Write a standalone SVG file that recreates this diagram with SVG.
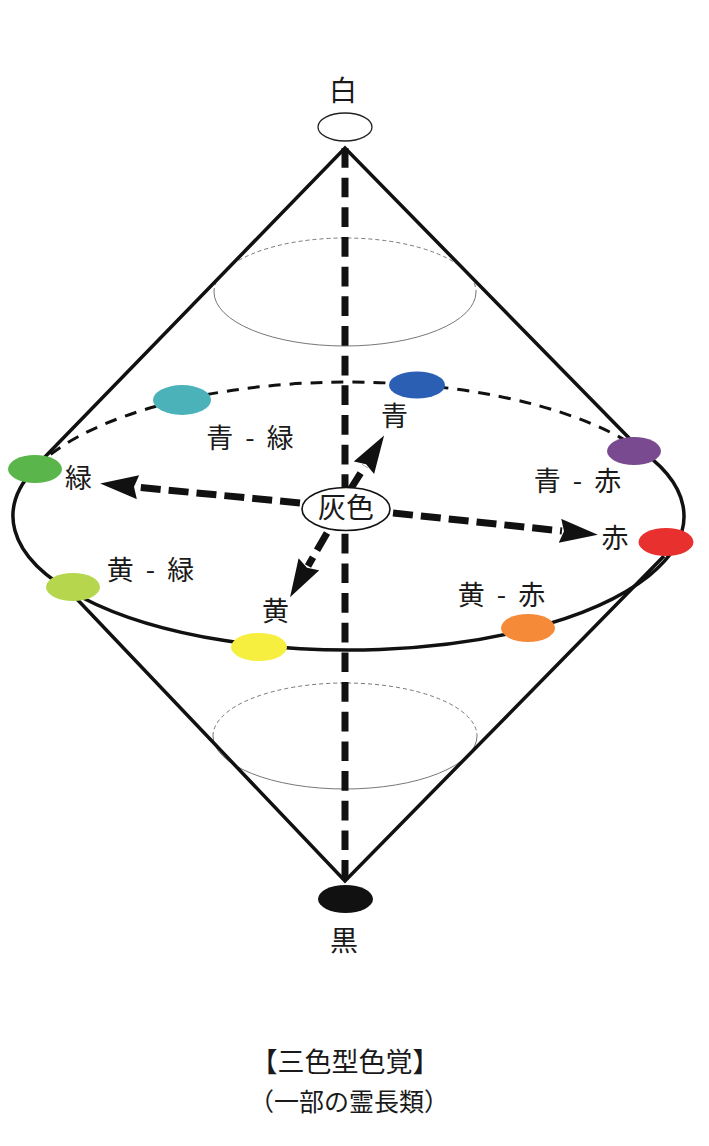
<svg xmlns="http://www.w3.org/2000/svg" width="709" height="1146" viewBox="0 0 709 1146">
<style>
.t{font-family:"Noto Sans CJK JP","Noto Sans CJK SC",sans-serif;fill:#1a1a1a;text-anchor:middle}
.lbl{font-size:27px;word-spacing:6px}
.cone{fill:none;stroke:#111;stroke-width:3.5;stroke-linejoin:miter}
.thin{fill:none;stroke:#777;stroke-width:1}
.thind{fill:none;stroke:#777;stroke-width:1;stroke-dasharray:4 3}
.arr{fill:none;stroke:#111;stroke-width:7;stroke-dasharray:20 8;marker-end:url(#ah)}
</style>
<defs>
<marker id="ah" markerUnits="userSpaceOnUse" markerWidth="42" markerHeight="28" refX="2" refY="12" orient="auto">
<path d="M0,0 L38,12 L0,24 L4,12 Z" fill="#111"/>
</marker>
</defs>
<rect width="709" height="1146" fill="#fff"/>
<g id="solid">
<path class="thind" d="M214 292 A131 54 0 0 1 476 292"/>
<path class="thin" d="M214 292 A131 54 0 0 0 476 292"/>
<path class="thind" d="M213 736 A132 53 0 0 1 477 736"/>
<path class="thin" d="M213 736 A132 53 0 0 0 477 736"/>
<polyline class="cone" points="40,462 345,148 631,440"/>
<polyline class="cone" points="74,596 345,881 664,556"/>
<path d="M35 468.3 A335.5 134 0 0 1 634 445.7" fill="none" stroke="#111" stroke-width="3" stroke-dasharray="12 9"/>
<path d="M35 468.3 A335.5 134 0 1 0 634 445.7" fill="none" stroke="#111" stroke-width="3.5"/>
<line x1="345" y1="148" x2="345" y2="880" stroke="#111" stroke-width="7" stroke-dasharray="19.7 9.97"/>
</g>
<g id="connectors">
<line class="arr" x1="300" y1="503" x2="136" y2="487"/>
<line class="arr" x1="393" y1="513" x2="562" y2="531"/>
<line class="arr" x1="350" y1="490" x2="365" y2="466"/>
<line class="arr" x1="327" y1="533" x2="308" y2="566"/>
</g>
<g id="white">
<ellipse cx="345" cy="127" rx="27" ry="14" fill="#fff" stroke="#222" stroke-width="1.3"/>
<text class="t" x="343" y="101" font-size="28">白</text>
</g>
<g id="black">
<ellipse cx="345.5" cy="899" rx="27.5" ry="14" fill="#111"/>
<text class="t" x="344" y="951" font-size="28">黒</text>
</g>
<g id="gray">
<ellipse cx="346" cy="509" rx="44" ry="21.5" fill="#fff" stroke="#111" stroke-width="1.6"/>
<text class="t" x="346" y="518" font-size="28">灰色</text>
</g>
<g id="blue-green">
<ellipse cx="182" cy="400" rx="29" ry="15" fill="#4bb2b9"/>
<text class="t lbl" x="250" y="448">青 - 緑</text>
</g>
<g id="blue">
<ellipse cx="417" cy="385" rx="28" ry="13.5" fill="#2b5fb3"/>
<text class="t lbl" x="394.5" y="426">青</text>
</g>
<g id="blue-red">
<ellipse cx="634" cy="451" rx="27" ry="14" fill="#7a4a90"/>
<text class="t lbl" x="577.5" y="491">青 - 赤</text>
</g>
<g id="red">
<ellipse cx="666" cy="542" rx="27.5" ry="14" fill="#e8312f"/>
<text class="t lbl" x="615" y="548">赤</text>
</g>
<g id="yellow-red">
<ellipse cx="528" cy="628" rx="27" ry="14" fill="#f58b38"/>
<text class="t lbl" x="501.5" y="605">黄 - 赤</text>
</g>
<g id="yellow">
<ellipse cx="259" cy="647" rx="28" ry="14" fill="#f6ef3f"/>
<text class="t lbl" x="275.5" y="621">黄</text>
</g>
<g id="yellow-green">
<ellipse cx="73" cy="587" rx="27" ry="14" fill="#b5d64d"/>
<text class="t lbl" x="150.5" y="580">黄 - 緑</text>
</g>
<g id="green">
<ellipse cx="35" cy="469" rx="27" ry="14" fill="#5ab54b"/>
<text class="t lbl" x="78.5" y="488">緑</text>
</g>
<g id="caption">
<text class="t" x="345" y="1072" font-size="27">【三色型色覚】</text>
<text class="t" x="349" y="1111" font-size="25">（一部の霊長類）</text>
</g>
</svg>
